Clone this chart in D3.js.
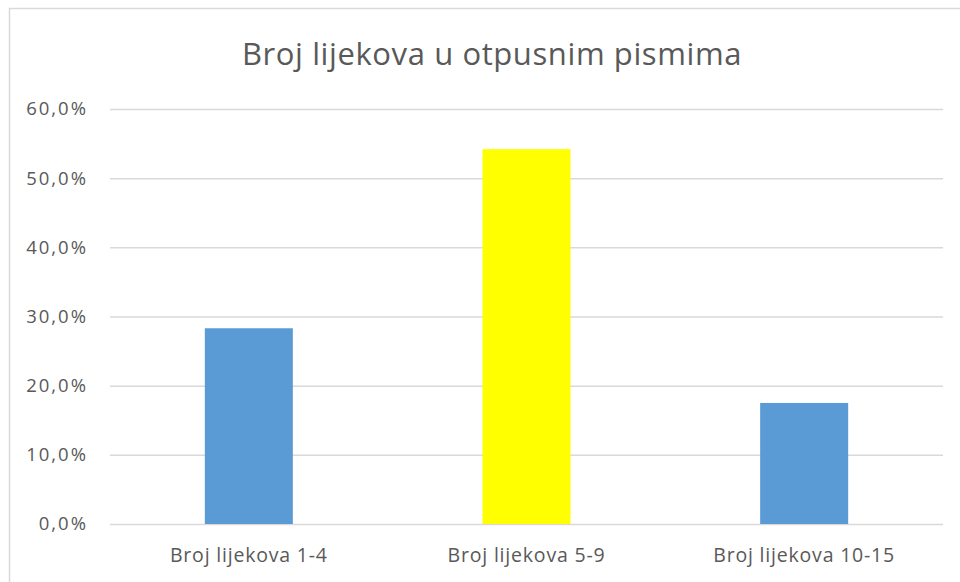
<!DOCTYPE html>
<html>
<head>
<meta charset="utf-8">
<script src="https://cdn.jsdelivr.net/npm/d3@7"></script>
<style>
  html, body { margin: 0; padding: 0; background: #fff; }
  svg { display: block; font-family: 'Open Sans', sans-serif; }
</style>
</head>
<body>
<div id="chart"></div>
<script>
const W = 960;
const H = 582;

const title = 'Broj lijekova u otpusnim pismima';
const categories = ['Broj lijekova 1-4', 'Broj lijekova 5-9', 'Broj lijekova 10-15'];
const shares = [0.283, 0.542, 0.175];
const barColors = ['#5B9BD5', '#FFFF00', '#5B9BD5'];
const yTicks = [0, 0.1, 0.2, 0.3, 0.4, 0.5, 0.6];

const plot = { left: 110, right: 943, top: 109, bottom: 524 };

const svg = d3.select('#chart')
  .append('svg')
  .attr('width', W)
  .attr('height', H);

// chart frame, runs off the right and bottom edge
svg.append('rect')
  .attr('x', 9.5)
  .attr('y', 8.5)
  .attr('width', 1000)
  .attr('height', 700)
  .attr('fill', '#fff')
  .attr('stroke', '#d9d9d9')
  .attr('stroke-width', 1.5);

svg.append('text')
  .attr('x', 492)
  .attr('y', 65)
  .attr('text-anchor', 'middle')
  .attr('fill', '#595959')
  .attr('font-size', 31)
  .attr('letter-spacing', 0.6)
  .text(title);

const x = d3.scaleBand()
  .domain(categories)
  .range([plot.left, plot.right])
  .paddingInner(0.683)
  .paddingOuter(0.3415);

const y = d3.scaleLinear()
  .domain([0, 0.6])
  .range([plot.bottom, plot.top]);

const fmt = v => d3.format('.1f')(v * 100).replace('.', ',') + '%';

// gridlines + y labels
const yAxis = d3.axisLeft(y)
  .tickValues(yTicks)
  .tickSize(-(plot.right - plot.left))
  .tickPadding(22)
  .tickFormat(fmt);

const gy = svg.append('g')
  .attr('transform', `translate(${plot.left},0)`)
  .call(yAxis);
gy.select('.domain').remove();
gy.selectAll('.tick line')
  .attr('stroke', '#d9d9d9')
  .attr('stroke-width', 1.5);
gy.selectAll('.tick text')
  .attr('fill', '#595959')
  .attr('font-size', 18.5)
  .attr('letter-spacing', 2)
  .attr('font-family', 'Open Sans, sans-serif');

svg.selectAll('rect.bar')
  .data(shares)
  .enter()
  .append('rect')
  .attr('class', 'bar')
  .attr('x', (d, i) => x(categories[i]))
  .attr('y', d => y(d))
  .attr('width', x.bandwidth())
  .attr('height', d => y(0) - y(d))
  .attr('fill', (d, i) => barColors[i]);

// x labels
const xAxis = d3.axisBottom(x).tickSize(0).tickPadding(24);
const gx = svg.append('g')
  .attr('transform', `translate(0,${plot.bottom})`)
  .call(xAxis);
gx.select('.domain').remove();
gx.selectAll('.tick text')
  .attr('fill', '#595959')
  .attr('font-size', 19.5)
  .attr('letter-spacing', 0.8)
  .attr('font-family', 'Open Sans, sans-serif');
</script>
</body>
</html>
